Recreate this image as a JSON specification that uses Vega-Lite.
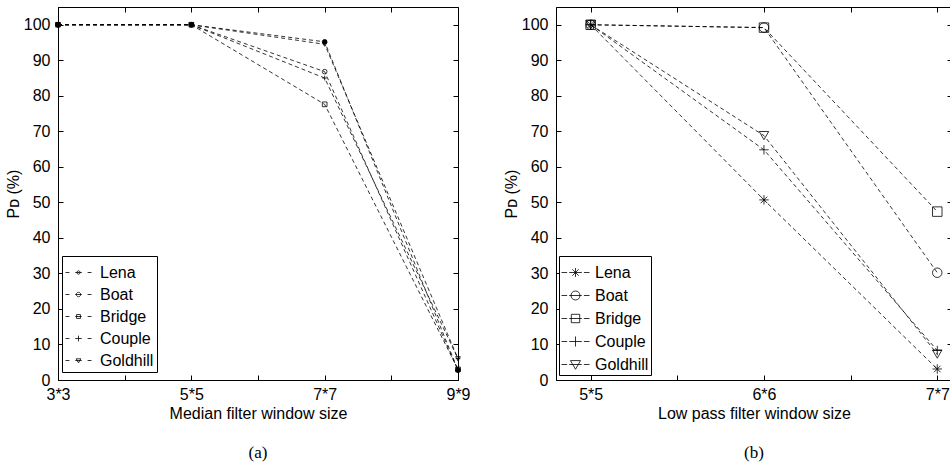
{
  "$schema": "https://vega.github.io/schema/vega-lite/v6.json",
  "background": "white",
  "padding": {"left": 4, "top": 6, "right": 0, "bottom": 0},
  "spacing": 31,
  "config": {
    "view": {"stroke": "black", "strokeWidth": 1},
    "axis": {"grid": false, "domainColor": "black", "tickColor": "black", "labelColor": "black", "titleColor": "black", "labelFont": "Liberation Sans", "titleFont": "Liberation Sans", "labelFontSize": 16, "titleFontSize": 16, "titleFontWeight": "normal", "tickSize": -5, "domainWidth": 1, "tickWidth": 1},
    "legend": {"labelFont": "Liberation Sans", "labelFontSize": 16, "labelColor": "black"},
    "title": {"font": "Liberation Serif", "fontSize": 17, "fontWeight": "normal", "color": "black"}
  },
  "hconcat": [
    {
      "width": 400,
      "height": 373,
      "title": {"text": "(a)", "orient": "bottom", "offset": 24},
      "data": {"values": [
        {"series": "Lena", "x": 3, "y": 100}, {"series": "Lena", "x": 5, "y": 100}, {"series": "Lena", "x": 7, "y": 95.2}, {"series": "Lena", "x": 9, "y": 2.8},
        {"series": "Boat", "x": 3, "y": 100}, {"series": "Boat", "x": 5, "y": 100}, {"series": "Boat", "x": 7, "y": 86.8}, {"series": "Boat", "x": 9, "y": 2.8},
        {"series": "Bridge", "x": 3, "y": 100}, {"series": "Bridge", "x": 5, "y": 100}, {"series": "Bridge", "x": 7, "y": 77.6}, {"series": "Bridge", "x": 9, "y": 3},
        {"series": "Couple", "x": 3, "y": 100}, {"series": "Couple", "x": 5, "y": 100}, {"series": "Couple", "x": 7, "y": 85}, {"series": "Couple", "x": 9, "y": 6},
        {"series": "Goldhill", "x": 3, "y": 100}, {"series": "Goldhill", "x": 5, "y": 100}, {"series": "Goldhill", "x": 7, "y": 94.5}, {"series": "Goldhill", "x": 9, "y": 6}
      ]},
      "layer": [
        {
          "mark": {"type": "line", "strokeDash": [4, 3], "color": "black", "strokeWidth": 0.8},
          "encoding": {
            "x": {"field": "x", "type": "quantitative", "scale": {"domain": [3, 9], "nice": false, "zero": false},
                  "axis": {"orient": "bottom", "title": "Median filter window size", "values": [3, 4, 5, 6, 7, 8, 9], "labelExpr": "datum.value % 2 == 1 ? datum.value + '*' + datum.value : ''", "labelPadding": 11, "titlePadding": 3, "labelFlush": false}},
            "y": {"field": "y", "type": "quantitative", "scale": {"domain": [0, 105], "nice": false},
                  "axis": {"orient": "left", "title": "Pᴅ (%)", "values": [0, 10, 20, 30, 40, 50, 60, 70, 80, 90, 100], "labelPadding": 13, "titlePadding": 2}},
            "detail": {"field": "series"}
          }
        },
        {
          "mark": {"type": "point", "filled": false, "stroke": "black", "strokeWidth": 0.8, "size": 22, "opacity": 1},
          "encoding": {
            "x": {"field": "x", "type": "quantitative", "axis": null},
            "y": {"field": "y", "type": "quantitative", "axis": null},
            "shape": {"field": "series", "type": "nominal", "legend": null,
                      "scale": {"domain": ["Lena", "Boat", "Bridge", "Couple", "Goldhill"], "range": ["circle", "circle", "square", "M-1,0L1,0M0,-1L0,1", "triangle-down"]}},
            "fill": {"condition": {"test": "datum.series === 'Lena'", "value": "black"}, "value": "transparent"}
          }
        },
        {
          "transform": [{"filter": "datum.series === 'none'"}],
          "mark": {"type": "point", "filled": false, "stroke": "black", "strokeWidth": 0.8, "size": 676, "opacity": 1},
          "encoding": {
            "x": {"field": "x", "type": "quantitative", "axis": {"orient": "top", "labels": false, "title": null, "domain": false, "values": [3, 4, 5, 6, 7, 8, 9]}},
            "y": {"field": "y", "type": "quantitative", "axis": {"orient": "right", "labels": false, "title": null, "domain": false, "values": [0, 10, 20, 30, 40, 50, 60, 70, 80, 90, 100]}},
            "shape": {"field": "series", "type": "nominal",
                      "scale": {"domain": ["Lena", "Boat", "Bridge", "Couple", "Goldhill"], "range": [
                        "M-1,0L-0.7,0M-0.25,0L0.25,0M0.7,0L1,0M0.13,0L0.092,0.092L0,0.13L-0.092,0.092L-0.13,0L-0.092,-0.092L0,-0.13L0.092,-0.092Z",
                        "M-1,0L-0.7,0M-0.25,0L0.25,0M0.7,0L1,0M0.17,0L0.157,0.065L0.12,0.12L0.065,0.157L0,0.17L-0.065,0.157L-0.12,0.12L-0.157,0.065L-0.17,0L-0.157,-0.065L-0.12,-0.12L-0.065,-0.157L0,-0.17L0.065,-0.157L0.12,-0.12L0.157,-0.065Z",
                        "M-1,0L-0.7,0M-0.25,0L0.25,0M0.7,0L1,0M-0.15,-0.15L0.15,-0.15L0.15,0.15L-0.15,0.15Z",
                        "M-1,0L-0.7,0M-0.25,0L0.25,0M0.7,0L1,0M0,-0.22L0,0.22",
                        "M-1,0L-0.7,0M-0.25,0L0.25,0M0.7,0L1,0M-0.18,-0.13L0.18,-0.13L0,0.18Z"
                      ]},
                      "legend": {"orient": "none", "legendX": 4, "legendY": 249, "title": null, "strokeColor": "black", "fillColor": "white", "padding": 3, "symbolSize": 676, "symbolStrokeColor": "black", "symbolStrokeWidth": 0.8, "symbolFillColor": "transparent", "labelOffset": 8, "rowPadding": -4,
                                 "encode": {"symbols": {"update": {"fill": {"signal": "datum.value === 'Lena' ? 'black' : 'transparent'"}}}}}}
          }
        }
      ],
      "resolve": {"scale": {"shape": "independent"}, "axis": {"x": "independent", "y": "independent"}}
    },
    {
      "width": 396,
      "height": 373,
      "title": {"text": "(b)", "orient": "bottom", "offset": 24},
      "data": {"values": [
        {"series": "Lena", "x": 5, "y": 100}, {"series": "Lena", "x": 6, "y": 50.7}, {"series": "Lena", "x": 7, "y": 3.1},
        {"series": "Boat", "x": 5, "y": 100}, {"series": "Boat", "x": 6, "y": 99.2}, {"series": "Boat", "x": 7, "y": 30.2},
        {"series": "Bridge", "x": 5, "y": 100}, {"series": "Bridge", "x": 6, "y": 99.2}, {"series": "Bridge", "x": 7, "y": 47.4},
        {"series": "Couple", "x": 5, "y": 100}, {"series": "Couple", "x": 6, "y": 64.8}, {"series": "Couple", "x": 7, "y": 8.3},
        {"series": "Goldhill", "x": 5, "y": 100}, {"series": "Goldhill", "x": 6, "y": 68.8}, {"series": "Goldhill", "x": 7, "y": 7.3}
      ]},
      "layer": [
        {
          "mark": {"type": "line", "strokeDash": [4, 3], "color": "black", "strokeWidth": 0.8},
          "encoding": {
            "x": {"field": "x", "type": "quantitative", "scale": {"domain": [4.8, 7.085], "nice": false, "zero": false},
                  "axis": {"orient": "bottom", "title": "Low pass filter window size", "values": [5, 5.5, 6, 6.5, 7], "labelExpr": "datum.value % 1 == 0 ? datum.value + '*' + datum.value : ''", "labelPadding": 11, "titlePadding": 3, "labelFlush": false}},
            "y": {"field": "y", "type": "quantitative", "scale": {"domain": [0, 105], "nice": false},
                  "axis": {"orient": "left", "title": "Pᴅ (%)", "values": [0, 10, 20, 30, 40, 50, 60, 70, 80, 90, 100], "labelPadding": 13, "titlePadding": 2}},
            "detail": {"field": "series"}
          }
        },
        {
          "mark": {"type": "point", "filled": false, "stroke": "black", "strokeWidth": 0.8, "size": 90, "opacity": 1},
          "encoding": {
            "x": {"field": "x", "type": "quantitative", "axis": null},
            "y": {"field": "y", "type": "quantitative", "axis": null},
            "shape": {"field": "series", "type": "nominal", "legend": null,
                      "scale": {"domain": ["Lena", "Boat", "Bridge", "Couple", "Goldhill"], "range": ["M-1,0L1,0M0,-1L0,1M-0.7,-0.7L0.7,0.7M-0.7,0.7L0.7,-0.7", "circle", "square", "M-1,0L1,0M0,-1L0,1", "triangle-down"]}}
          }
        },
        {
          "transform": [{"filter": "datum.series === 'none'"}],
          "mark": {"type": "point", "filled": false, "stroke": "black", "strokeWidth": 0.8, "size": 784, "opacity": 1},
          "encoding": {
            "x": {"field": "x", "type": "quantitative", "axis": {"orient": "top", "labels": false, "title": null, "domain": false, "values": [5, 5.5, 6, 6.5, 7]}},
            "y": {"field": "y", "type": "quantitative", "axis": {"orient": "right", "labels": false, "title": null, "domain": false, "values": [0, 10, 20, 30, 40, 50, 60, 70, 80, 90, 100]}},
            "shape": {"field": "series", "type": "nominal",
                      "scale": {"domain": ["Lena", "Boat", "Bridge", "Couple", "Goldhill"], "range": [
                        "M-1,0L-0.6,0M-0.45,0L0.45,0M0.6,0L1,0M0,-0.32L0,0.32M-0.23,-0.23L0.23,0.23M-0.23,0.23L0.23,-0.23",
                        "M-1,0L-0.6,0M-0.45,0L0.45,0M0.6,0L1,0M0.32,0L0.296,0.123L0.226,0.226L0.123,0.296L0,0.32L-0.123,0.296L-0.226,0.226L-0.296,0.123L-0.32,0L-0.296,-0.123L-0.226,-0.226L-0.123,-0.296L0,-0.32L0.123,-0.296L0.226,-0.226L0.296,-0.123Z",
                        "M-1,0L-0.6,0M-0.45,0L0.45,0M0.6,0L1,0M-0.3,-0.3L0.3,-0.3L0.3,0.3L-0.3,0.3Z",
                        "M-1,0L-0.6,0M-0.45,0L0.45,0M0.6,0L1,0M0,-0.36L0,0.36",
                        "M-1,0L-0.6,0M-0.45,0L0.45,0M0.6,0L1,0M-0.36,-0.28L0.36,-0.28L0,0.34Z"
                      ]},
                      "legend": {"orient": "none", "legendX": 3, "legendY": 249, "title": null, "strokeColor": "black", "fillColor": "white", "padding": 2, "symbolSize": 784, "symbolStrokeColor": "black", "symbolStrokeWidth": 0.8, "symbolFillColor": "transparent", "labelOffset": 5, "rowPadding": -5}}
          }
        }
      ],
      "resolve": {"scale": {"shape": "independent"}, "axis": {"x": "independent", "y": "independent"}}
    }
  ]
}
